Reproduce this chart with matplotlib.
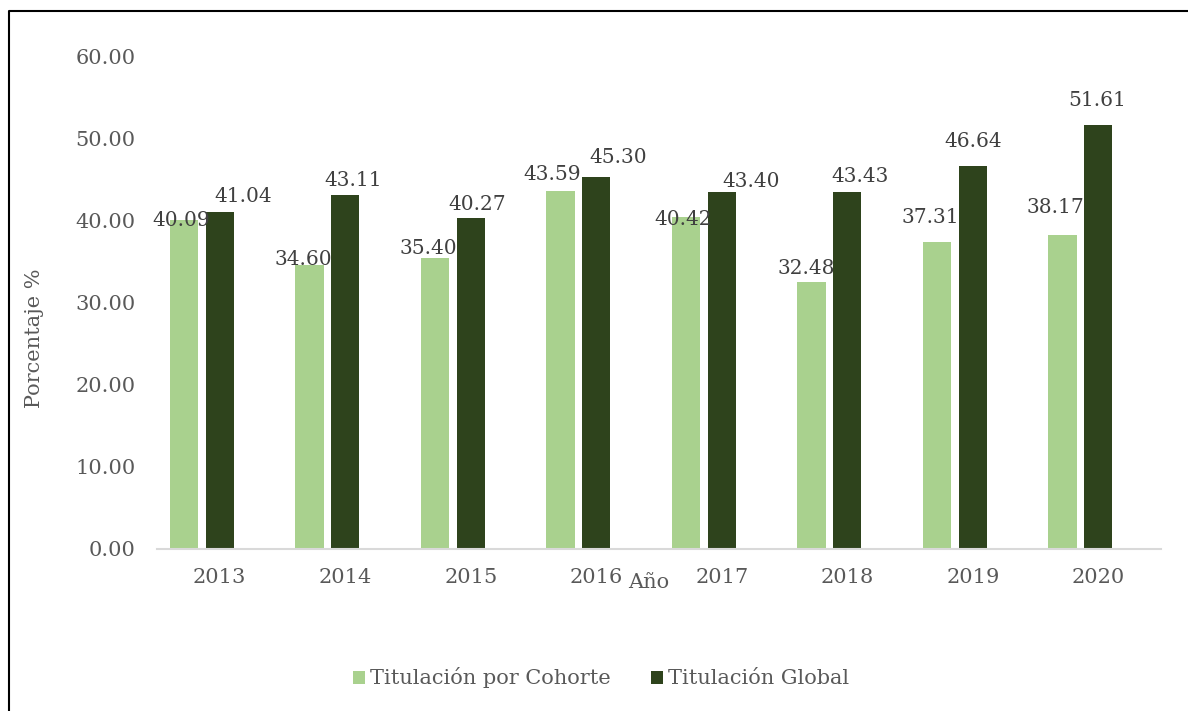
import matplotlib.pyplot as plt
from matplotlib.lines import Line2D
import numpy as np

years = ["2013", "2014", "2015", "2016", "2017", "2018", "2019", "2020"]
cohorte = [40.09, 34.60, 35.40, 43.59, 40.42, 32.48, 37.31, 38.17]
global_ = [41.04, 43.11, 40.27, 45.30, 43.40, 43.43, 46.64, 51.61]
yticks = [0, 10, 20, 30, 40, 50, 60]

# label nudges in pixels (x right, y up) relative to the bar top centre
cohorte_nudge = [(-2.5, -6), (-6.5, 0), (-7, 4), (-8, 11), (-3, -8), (-5.5, 8), (-7, 19), (-7, 22)]
global_nudge = [(23, 10), (8, 9), (6, 8), (22, 14), (29, 5), (13, 10), (0, 19), (-1, 19)]

light = "#a9d18e"
dark = "#2e431c"
txt = "#595959"
fs = 15

plt.rcParams['font.family'] = ['DejaVu Serif']

fig = plt.figure(figsize=(11.88, 7.11), dpi=100)
ax = fig.add_axes([157 / 1188, 1 - 549 / 711, (1161 - 157) / 1188, (549 - 56) / 711])

x = np.arange(len(years))
w = 0.225
gap = 0.06
b1 = ax.bar(x - w - gap, cohorte, w, color=light, label="Titulación por Cohorte")
b2 = ax.bar(x, global_, w, color=dark, label="Titulación Global")

for bars, vals, nudge in [(b1, cohorte, cohorte_nudge), (b2, global_, global_nudge)]:
    for r, v, (dx, dy) in zip(bars, vals, nudge):
        ax.annotate("%.2f" % v, (r.get_x() + r.get_width() / 2, v),
                    xytext=(dx, dy), textcoords="offset pixels",
                    ha="center", va="baseline", fontsize=fs - 0.5, color="#404040")

ax.set_xlim(-0.5, len(years) - 0.5)
ax.set_ylim(0, 60)
ax.set_xticks(x)
ax.set_xticklabels(years)
ax.set_yticks(yticks)
ax.set_yticklabels(["%.2f" % t for t in yticks])
ax.tick_params(axis="both", length=0, labelsize=fs, colors=txt)
ax.tick_params(axis="x", pad=13.5)
ax.tick_params(axis="y", pad=15.5)
for s in ["top", "right", "left"]:
    ax.spines[s].set_visible(False)
ax.spines["bottom"].set_color("#d9d9d9")
ax.spines["bottom"].set_linewidth(1.5)

fig.text(35 / 1188, 1 - 338 / 711, "Porcentaje %", rotation=90, ha="center", va="center",
         fontsize=fs, color=txt)
fig.text(649 / 1188, 1 - 583 / 711, "Año", ha="center", va="center", fontsize=fs, color=txt)

leg = fig.legend(handles=[b1, b2], loc="center", bbox_to_anchor=(601 / 1188, 1 - 678 / 711),
                 ncol=2, frameon=False, fontsize=fs, handlelength=0.58, handleheight=0.58,
                 handletextpad=0.25, columnspacing=1.9)
for t in leg.get_texts():
    t.set_color(txt)

fig.add_artist(Line2D([8.5 / 1188, 8.5 / 1188, 1], [0, 1 - 11 / 711, 1 - 11 / 711],
                      transform=fig.transFigure, color="black", lw=1.5))

fig.savefig("out.png", dpi=100)
